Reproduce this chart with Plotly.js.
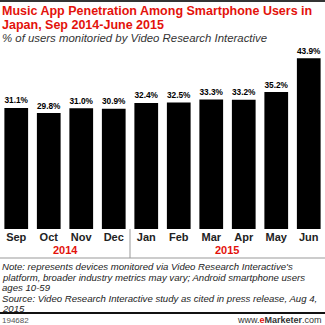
<!DOCTYPE html>
<html><head><meta charset="utf-8">
<script src="https://cdn.plot.ly/plotly-3.0.1.min.js"></script>
<style>html,body{margin:0;padding:0;background:#fff}#c{width:325px;height:325px}</style>
</head><body><div id="c"></div>
<script>
const months = ["Sep","Oct","Nov","Dec","Jan","Feb","Mar","Apr","May","Jun"];
const values = [31.1, 29.8, 31.0, 30.9, 32.4, 32.5, 33.3, 33.2, 35.2, 43.9];
const years = ["2014", "2015"];
const titleLines = ["Music App Penetration Among Smartphone Users in", "Japan, Sep 2014-June 2015"];
const subtitle = "% of users monitoried by Video Research Interactive";
const notes = ["Note: represents devices monitored via Video Research Interactive's",
  "platform, broader industry metrics may vary; Android smartphone users",
  "ages 10-59",
  "Source: Video Research Interactive study as cited in press release, Aug 4,",
  "2015"];
const chartId = "194682";

const F = "Liberation Sans, Arial, sans-serif";
const trace = {
  type: "bar", x: months, y: values,
  marker: {color: "#000000"},
  text: values.map(v => v.toFixed(1) + "%"),
  textposition: "outside", cliponaxis: false,
  textfont: {family: F, size: 11, color: "#000", weight: "bold"},
  hoverinfo: "none"
};
const ann = [];
const px = (y) => 1 - (y - 50) / 179; // pixel y to paper
const titleY = [10.5, 24.5];
titleLines.forEach((t, i) => ann.push({text: "<b>" + t + "</b>", xref: "paper", yref: "paper", x: 0, y: px(titleY[i]), xanchor: "left", yanchor: "middle", align: "left", showarrow: false, xshift: 0, font: {family: F, size: 12.5, color: "#e3120b"}}));
ann.push({text: "<i>" + subtitle + "</i>", xref: "paper", yref: "paper", x: 0, y: px(37.5), xanchor: "left", yanchor: "middle", align: "left", showarrow: false, xshift: 0, font: {family: F, size: 11.4, color: "#333"}});
ann.push({text: "<b>" + years[0] + "</b>", xref: "paper", yref: "paper", x: 2/10, y: px(250), xanchor: "center", yanchor: "middle", showarrow: false, font: {family: F, size: 11, color: "#e3120b"}});
ann.push({text: "<b>" + years[1] + "</b>", xref: "paper", yref: "paper", x: 7/10, y: px(250), xanchor: "center", yanchor: "middle", showarrow: false, font: {family: F, size: 11, color: "#e3120b"}});
const noteY = [266.5, 277, 287.5, 298, 308];
notes.forEach((n, i) => ann.push({text: "<i>" + n + "</i>", xref: "paper", yref: "paper", x: 0, y: px(noteY[i]), xanchor: "left", yanchor: "middle", showarrow: false, xshift: 0, font: {family: F, size: 9.6, color: "#222"}}));
ann.push({text: chartId, xref: "paper", yref: "paper", x: 0, y: px(320), xanchor: "left", yanchor: "middle", showarrow: false, xshift: 0, font: {family: F, size: 8, color: "#555"}});
ann.push({text: "www.<span style='color:#e3120b'><b>e</b></span><b>Marketer</b>.com", xref: "paper", yref: "paper", x: 1, y: px(320), xanchor: "right", yanchor: "middle", showarrow: false, xshift: -1, font: {family: F, size: 9, color: "#333"}});

const shapes = [
  {type: "line", xref: "paper", yref: "paper", x0: 0, x1: 1, y0: px(1), y1: px(1), line: {color: "#333", width: 2}},
  {type: "line", xref: "paper", yref: "paper", x0: 0, x1: 1, y0: px(258), y1: px(258), line: {color: "#999", width: 1}},
  {type: "line", xref: "paper", yref: "paper", x0: 0.4, x1: 0.4, y0: px(229), y1: px(258), line: {color: "#999", width: 1}},
  {type: "line", xref: "paper", yref: "paper", x0: 0, x1: 1, y0: px(313), y1: px(313), line: {color: "#111", width: 2}}
];

const layout = {
  width: 325, height: 325,
  margin: {l: 0, r: 0, t: 50, b: 96, pad: 0},
  paper_bgcolor: "#fff", plot_bgcolor: "#fff",
  bargap: 0.27,
  showlegend: false,
  xaxis: {type: "category", tickfont: {family: F, size: 11, color: "#222", weight: "bold"}, showline: false, ticks: "", showgrid: false, zeroline: false, fixedrange: true},
  yaxis: {range: [0, 46], visible: false, showgrid: false, zeroline: false, fixedrange: true},
  annotations: ann, shapes: shapes
};
Plotly.newPlot("c", [trace], layout, {displayModeBar: false, staticPlot: true});
</script></body></html>
